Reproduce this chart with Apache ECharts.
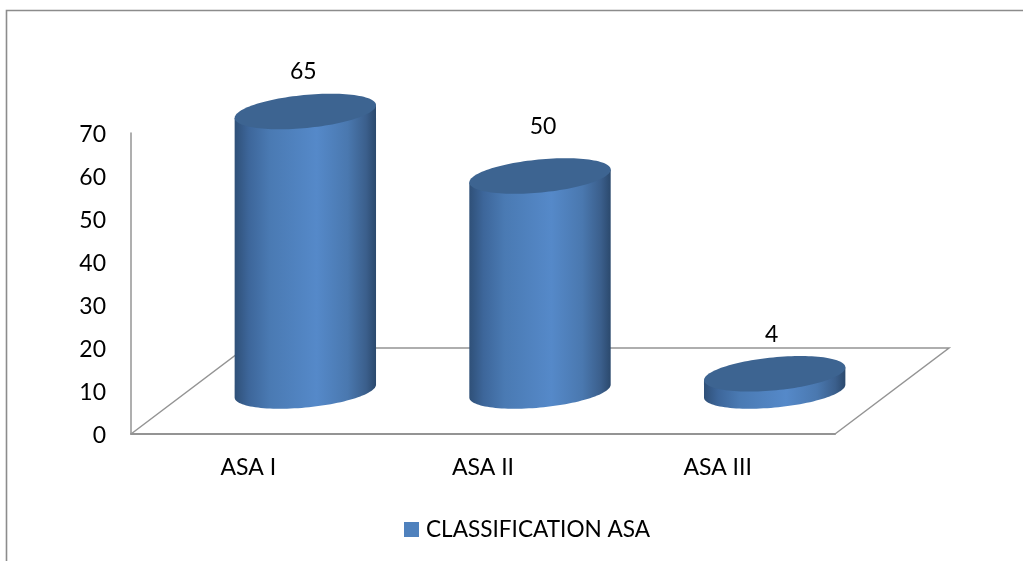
<!DOCTYPE html>
<html>
<head>
<meta charset="utf-8">
<style>html,body{margin:0;padding:0;background:#fff}#chart{width:1023px;height:561px}</style>
<script src="https://cdn.jsdelivr.net/npm/echarts@6/dist/echarts.min.js"></script>
</head>
<body>
<div id="chart"></div>
<script>
// ASA classification counts
const categories = ['ASA I', 'ASA II', 'ASA III'];
const seriesName = 'CLASSIFICATION ASA';
const values = [65, 50, 4];
const yTicks = { min: 0, max: 70, interval: 10 };

// Pseudo-3D look of the floor and cylinders
const floorDepth = { x: 114, y: 86 };
const barShift = { x: 57, y: -43 };
const radius = { a: 71, b: 16.5, tilt: 5.5 * Math.PI / 180 };
const labelNudge = [[-2, -40], [3, -49], [-3, -39]];
const fontFamily = 'Lato, Carlito, sans-serif';
const axisGrey = '#949494';

const chart = echarts.init(document.getElementById('chart'), null, { renderer: 'canvas' });

// Point on the tilted rim ellipse at parameter t
function rim(cx, cy, t) {
  const c = Math.cos(radius.tilt), s = Math.sin(radius.tilt);
  const u = radius.a * Math.cos(t), v = radius.b * Math.sin(t);
  return [cx + u * c + v * s, cy - u * s + v * c];
}
// Rim parameter of the leftmost and rightmost points
const tExtreme = Math.atan2(radius.b * Math.sin(radius.tilt), radius.a * Math.cos(radius.tilt));

function renderCylinder(params, api) {
  const i = api.value(0);
  const v = api.value(1);
  const base = api.coord([i, 0]);
  const top = api.coord([i, v]);
  const cx = base[0] + barShift.x;
  const baseY = base[1] + barShift.y;
  const topY = top[1] + barShift.y;

  // Body outline: top right extreme, across to the left, then the front of the base rim
  const side = [rim(cx, topY, tExtreme), rim(cx, topY, Math.PI + tExtreme)];
  for (let k = 0; k <= 60; k++) {
    side.push(rim(cx, baseY, Math.PI + tExtreme - Math.PI * k / 60));
  }
  const cap = [];
  for (let k = 0; k < 120; k++) cap.push(rim(cx, topY, 2 * Math.PI * k / 120));

  const bodyFill = new echarts.graphic.LinearGradient(0, 0, 1, 0, [
    { offset: 0, color: '#2f5078' },
    { offset: 0.1, color: '#3d669a' },
    { offset: 0.25, color: '#4a7ab3' },
    { offset: 0.58, color: '#5589c9' },
    { offset: 0.8, color: '#4a78af' },
    { offset: 0.93, color: '#3b5f8c' },
    { offset: 1, color: '#2b496d' }
  ]);
  const nudge = labelNudge[i];
  return {
    type: 'group',
    children: [
      { type: 'polygon', shape: { points: side }, style: { fill: bodyFill } },
      { type: 'polygon', shape: { points: cap }, style: { fill: '#3d6491' } },
      {
        type: 'text',
        style: {
          x: cx + nudge[0], y: topY + nudge[1],
          text: String(v), align: 'center', verticalAlign: 'middle',
          fill: '#000', font: '23px ' + fontFamily
        }
      }
    ]
  };
}

// Floor parallelogram behind the cylinders
function renderFloor(params) {
  const g = params.coordSys;
  const x0 = g.x, x1 = g.x + g.width, y = g.y + g.height;
  return {
    type: 'polyline',
    shape: { points: [
      [x0, y],
      [x0 + floorDepth.x, y - floorDepth.y],
      [x1 + floorDepth.x, y - floorDepth.y],
      [x1, y]
    ] },
    style: { fill: 'none', stroke: axisGrey, lineWidth: 1.5 },
    silent: true
  };
}

chart.setOption({
  animation: false,
  backgroundColor: '#fff',
  grid: { left: 131, top: 133, width: 704, height: 301, containLabel: false },
  xAxis: {
    type: 'category',
    data: categories,
    axisLine: { lineStyle: { color: axisGrey, width: 2 } },
    axisTick: { show: false },
    axisLabel: { color: '#000', fontFamily, fontSize: 23, margin: 22 }
  },
  yAxis: {
    type: 'value',
    min: yTicks.min,
    max: yTicks.max,
    interval: yTicks.interval,
    axisLine: { show: true, lineStyle: { color: axisGrey, width: 1.5 } },
    axisTick: { show: false },
    splitLine: { show: false },
    axisLabel: {
      color: '#000', fontFamily, fontSize: 23, margin: 25,
      verticalAlign: 'top', lineHeight: 24, padding: [-10, 0, 0, 0]
    }
  },
  legend: {
    left: 399,
    top: 513,
    itemWidth: 15,
    itemHeight: 15,
    itemGap: 5,
    icon: 'rect',
    data: [seriesName],
    textStyle: { color: '#000', fontFamily, fontSize: 22.6, padding: [0, 0, 0, 2] }
  },
  graphic: [{
    type: 'polyline',
    silent: true,
    shape: { points: [[6.5, 561], [6.5, 10.5], [1023, 10.5]] },
    style: { fill: 'none', stroke: '#8c8c8c', lineWidth: 1.6 }
  }],
  series: [
    {
      type: 'custom',
      renderItem: renderFloor,
      data: [[0, 0]],
      silent: true,
      z: 1
    },
    {
      name: seriesName,
      type: 'custom',
      renderItem: renderCylinder,
      encode: { x: 0, y: 1 },
      itemStyle: { color: '#4f81bd' },
      data: values.map((v, i) => [i, v]),
      z: 3
    }
  ]
});
</script>
</body>
</html>
